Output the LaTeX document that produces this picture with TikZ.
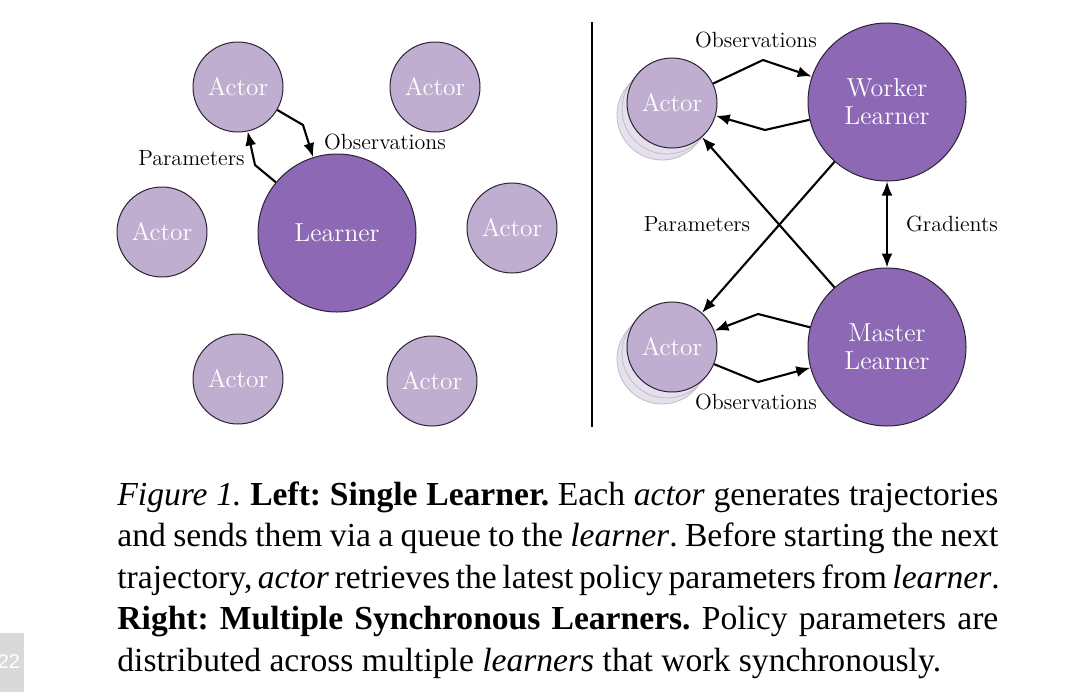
\documentclass[tikz,border=0pt]{standalone}
\usepackage{fontspec}
\usetikzlibrary{arrows.meta,positioning}
\newfontfamily\capfont{Liberation Serif}
\newfontfamily\pagefont{Liberation Sans}
\definecolor{actorfill}{HTML}{C0AED1}
\definecolor{learnerfill}{HTML}{8D68B4}
\definecolor{rim}{HTML}{2B2233}
\tikzset{
  actor/.style={circle, draw=rim, fill=actorfill, line width=0.5pt, minimum size=45pt, inner sep=0pt, text=white, font=\fontsize{12.6}{14}\selectfont},
  learner/.style={circle, draw=rim, fill=learnerfill, line width=0.5pt, minimum size=79pt, inner sep=0pt, text=white, font=\fontsize{13}{14}\selectfont, align=center},
  ghost/.style={circle, draw=rim!30, fill=actorfill!40, line width=0.4pt, minimum size=45pt, inner sep=0pt},
  flow/.style={line width=1.05pt, -{Latex[length=7pt,width=5.5pt]}},
  tag/.style={font=\fontsize{11}{13}\selectfont},
  caption/.style={anchor=base west, inner sep=0pt, font=\capfont\fontsize{16.8}{20}\selectfont}
}
\begin{document}
\frenchspacing
\begin{tikzpicture}[x=0.5pt, y=-0.5pt]
                \useasboundingbox (0, 0) rectangle (1065, 697);
                % left: one learner
                \node[learner] (learner) at (337, 233){Learner};
                \node[actor] (actTL) at (238, 87){Actor};
                \node[actor] (actTR) at (435, 87){Actor};
                \node[actor] (actL) at (162, 232){Actor};
                \node[actor] (actR) at (512, 228){Actor};
                \node[actor] (actBL) at (238, 379){Actor};
                \node[actor] (actBR) at (432, 381){Actor};
                \draw[flow] (actTL) -- (303, 125) -- (learner);
                \draw[flow] (learner) -- (255, 165) -- (actTL);
                \node[tag] (obsL) at (385, 142){Observations};
                \node[tag, anchor=east, inner sep=0pt] (parL) at (245, 158){Parameters};
                % divider
                \coordinate (divTop) at (592, 22);
                \coordinate (divBot) at (592, 427);
                \draw[line width=0.6pt] (divTop) -- (divBot);
                % right: worker and master
                \node[learner] (worker) at (887, 102){Worker\\Learner};
                \node[learner] (master) at (887, 347){Master\\Learner};
                \node[ghost] (ghostA2) at (662, 115){};
                \node[ghost] (ghostA1) at (667, 109){};
                \node[actor] (actA) at (672, 103){Actor};
                \node[ghost] (ghostB2) at (662, 359){};
                \node[ghost] (ghostB1) at (667, 353){};
                \node[actor] (actB) at (672, 347){Actor};
                \draw[flow] (actA) -- (763, 60) -- (worker);
                \draw[flow] (worker) -- (765, 130) -- (actA);
                \draw[flow] (worker) -- (actB);
                \draw[flow] (master) -- (actA);
                \draw[flow, {Latex[length=7pt,width=5.5pt]}-{Latex[length=7pt,width=5.5pt]}] (worker) -- (master);
                \draw[flow] (master) -- (758, 314) -- (actB);
                \draw[flow] (actB) -- (758, 382) -- (master);
                \node[tag] (obsTop) at (756, 40){Observations};
                \node[tag] (obsBot) at (756, 402){Observations};
                \node[tag] (parR) at (697, 224){Parameters};
                \node[tag] (grad) at (952, 224){Gradients};
                % caption
                \node[caption] (cap1) at (117, 505){\makebox[440.5pt][s]{\textit{Figure 1.} \textbf{Left: Single Learner.} Each \textit{actor} generates trajectories}};
                \node[caption] (cap2) at (117, 546.5){\makebox[440.5pt][s]{and sends them via a queue to the \textit{learner}. Before starting the next}};
                \node[caption] (cap3) at (117, 588){\makebox[440.5pt][s]{trajectory, \textit{actor} retrieves the latest policy parameters from \textit{learner}.}};
                \node[caption] (cap4) at (117, 629.5){\makebox[440.5pt][s]{\textbf{Right: Multiple Synchronous Learners.} Policy parameters are}};
                \node[caption] (cap5) at (117, 671){distributed across multiple \textit{learners} that work synchronously.};
                % page number tab
                \fill[black!15] (0, 633) rectangle (24, 692);
                \node[text=white, font=\pagefont\fontsize{10}{12}\selectfont] (pageno) at (9, 662){22};
            \end{tikzpicture}
\end{document}
